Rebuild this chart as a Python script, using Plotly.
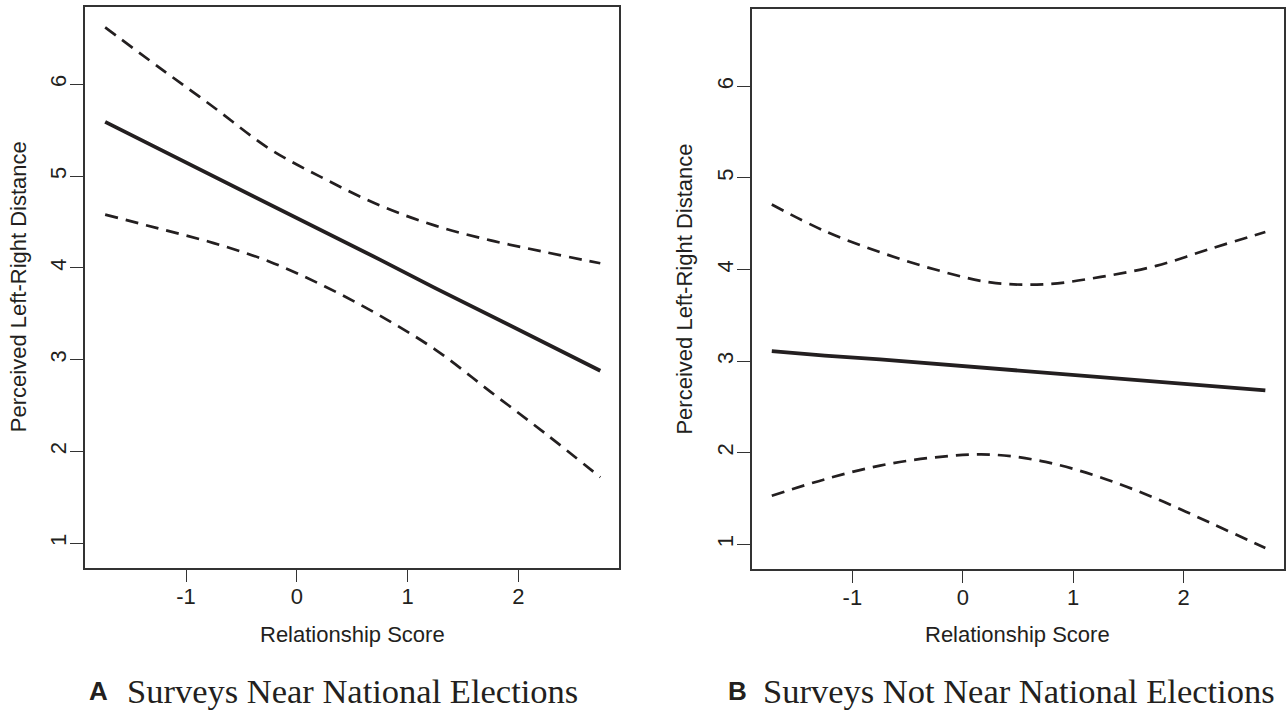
import plotly.graph_objects as go

# ---- data ----
x_grid = [-1.73, -1.25, -0.75, -0.25, 0.25, 0.75, 1.25, 1.75, 2.25, 2.74]

a_fit   = [5.59, 5.30, 5.00, 4.69, 4.39, 4.09, 3.78, 3.48, 3.18, 2.88]
a_upper = [6.62, 6.19, 5.75, 5.30, 4.97, 4.68, 4.46, 4.30, 4.17, 4.05]
a_lower = [4.58, 4.43, 4.27, 4.07, 3.80, 3.48, 3.11, 2.65, 2.19, 1.72]

b_fit   = [3.11, 3.06, 3.02, 2.97, 2.92, 2.87, 2.82, 2.78, 2.73, 2.68]
b_upper = [4.71, 4.42, 4.19, 4.00, 3.86, 3.84, 3.92, 4.04, 4.23, 4.41]
b_lower = [1.53, 1.71, 1.86, 1.95, 1.98, 1.90, 1.73, 1.50, 1.23, 0.96]

x_ticks = [-1, 0, 1, 2]
x_tick_labels = ["-1", "0", "1", "2"]
y_ticks = [1, 2, 3, 4, 5, 6]
y_tick_labels = ["1", "2", "3", "4", "5", "6"]
x_title = "Relationship Score"
y_title = "Perceived Left-Right Distance"
panel_letters = ["A", "B"]
panel_titles = ["Surveys Near National Elections", "Surveys Not Near National Elections"]

W, H = 1287, 711
INK = "#231f20"
SANS = "Liberation Sans, Arial, sans-serif"
SERIF = "Liberation Serif, Times New Roman, serif"

fig = go.Figure()

def add_panel(fit, up, lo, xa, ya):
    for ys, dash, wdt, shp in [(up, "13px,8px", 2.7, "spline"),
                               (lo, "13px,8px", 2.7, "spline"),
                               (fit, "solid", 3.8, "linear")]:
        line = dict(color=INK, width=wdt, dash=dash, shape=shp)
        if shp == "spline":
            line["smoothing"] = 1.0
        fig.add_trace(go.Scatter(
            x=x_grid, y=ys, mode="lines", xaxis=xa, yaxis=ya, line=line,
            showlegend=False, hoverinfo="skip"))

add_panel(a_fit, a_upper, a_lower, "x", "y")
add_panel(b_fit, b_upper, b_lower, "x2", "y2")

# panel boxes in pixels (left, right, top, bottom)
boxes = [(85, 619, 6.7, 567.7), (751.7, 1284, 9, 568.7)]
letter_x = [87, 726]
title_x = [125, 761]

axis_common = dict(
    showline=True, mirror=True, linecolor="#333333", linewidth=1.5,
    showgrid=False, zeroline=False, ticks="outside", ticklen=13, tickwidth=1.3,
    tickcolor="#333333", tickfont=dict(family=SANS, size=22, color=INK),
)

for i, (l, r, t, b) in enumerate(boxes):
    sfx = "" if i == 0 else str(i + 1)
    fig.layout["xaxis" + sfx] = dict(
        axis_common, domain=[l / W, r / W], range=[-1.912, 2.909],
        tickvals=x_ticks, ticktext=x_tick_labels, ticklabelstandoff=-5,
        anchor="y" + sfx)
    fig.layout["yaxis" + sfx] = dict(
        axis_common, domain=[1 - b / H, 1 - t / H], range=[0.734, 6.845],
        tickvals=y_ticks, ticktext=y_tick_labels, tickangle=-90,
        ticklabelstandoff=-5, anchor="x" + sfx)

    cx = (l + r) / 2
    cy = (t + b) / 2
    fig.add_annotation(xref="paper", yref="paper", x=cx / W, y=1 - 634 / H,
                       text=x_title, showarrow=False, xanchor="center", yanchor="middle",
                       font=dict(family=SANS, size=22, color=INK))
    fig.add_annotation(xref="paper", yref="paper", x=(l - 67) / W, y=1 - cy / H,
                       text=y_title, showarrow=False, textangle=-90,
                       xanchor="center", yanchor="middle",
                       font=dict(family=SANS, size=22, color=INK))
    fig.add_annotation(xref="paper", yref="paper", x=letter_x[i] / W, y=1 - 691 / H,
                       text="<b>" + panel_letters[i] + "</b>", showarrow=False,
                       xanchor="left", yanchor="middle",
                       font=dict(family=SANS, size=26, color=INK))
    fig.add_annotation(xref="paper", yref="paper", x=title_x[i] / W, y=1 - 691 / H,
                       text=panel_titles[i], showarrow=False,
                       xanchor="left", yanchor="middle",
                       font=dict(family=SERIF, size=34.5, color=INK))

fig.update_layout(
    width=W, height=H, margin=dict(l=0, r=0, t=0, b=0),
    paper_bgcolor="white", plot_bgcolor="white",
)

fig.write_html("out.html", config={"displayModeBar": False},
               post_script="document.body.style.margin='0';document.body.style.padding='0';")
